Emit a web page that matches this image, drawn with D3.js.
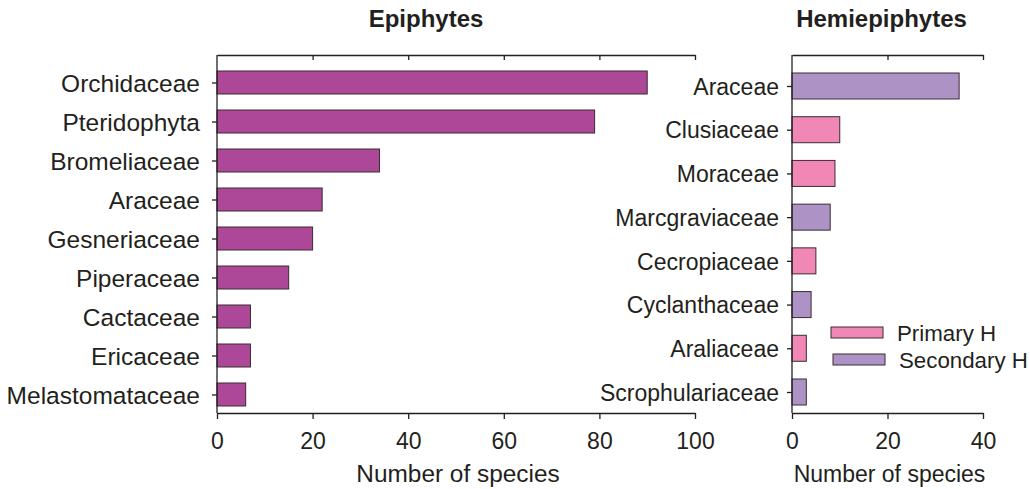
<!DOCTYPE html>
<html>
<head>
<meta charset="utf-8">
<script src="https://cdn.jsdelivr.net/npm/d3@7"></script>
<style>
  body { margin: 0; background: #fff; }
  text { font-family: "Liberation Sans", Arial, Helvetica, sans-serif; fill: #231f20; }
</style>
</head>
<body>
<svg id="chart" width="1030" height="489"></svg>
<script>
// epiphytes
const epi_families = ["Orchidaceae", "Pteridophyta", "Bromeliaceae", "Araceae", "Gesneriaceae",
    "Piperaceae", "Cactaceae", "Ericaceae", "Melastomataceae"]
const epi_species = [90, 79, 34, 22, 20, 15, 7, 7, 6]

// hemiepiphytes
const hemi_families = ["Araceae", "Clusiaceae", "Moraceae", "Marcgraviaceae", "Cecropiaceae",
    "Cyclanthaceae", "Araliaceae", "Scrophulariaceae"]
const hemi_species = [35, 10, 9, 8, 5, 4, 3, 3]
const hemi_type = ["Secondary H", "Primary H", "Primary H", "Secondary H", "Primary H",
    "Secondary H", "Primary H", "Secondary H"]

const epi_ticks = [0, 20, 40, 60, 80, 100]
const hemi_ticks = [0, 20, 40]
const legend_keys = ["Primary H", "Secondary H"]

const colors = {
    epi: "#ad4797",
    "Primary H": "#f187b4",
    "Secondary H": "#ad92c5",
    stroke: "#3b2c33",
    axis: "#231f20"
}

const svg = d3.select("#chart")
const top_y = 55, bottom_y = 413

function drawPanel(opt) {
    const x = d3.scaleLinear().domain(opt.domain).range(opt.xrange)
    const y = d3.scalePoint().domain(opt.cats).range(opt.yrange)
    const g = svg.append("g")

    // bars
    g.selectAll("rect.bar").data(opt.values).enter().append("rect")
        .attr("class", "bar")
        .attr("x", x(0))
        .attr("y", (d, i) => y(opt.cats[i]) - opt.bar_h / 2)
        .attr("width", d => x(d) - x(0))
        .attr("height", opt.bar_h)
        .attr("fill", (d, i) => opt.fill(i))
        .attr("stroke", colors.stroke).attr("stroke-width", 1)

    // bottom axis
    const bottom = g.append("g").attr("transform", `translate(0,${bottom_y})`)
        .call(d3.axisBottom(x).tickValues(opt.ticks).tickSize(6).tickPadding(14).tickSizeOuter(0))
    // top axis (inner ticks, no labels)
    const top = g.append("g").attr("transform", `translate(0,${top_y})`)
        .call(d3.axisTop(x).tickValues(opt.ticks.slice(1)).tickSize(-5).tickFormat("").tickSizeOuter(0))
    // left axis
    const left = g.append("g").attr("transform", `translate(${x(0)},0)`)
        .call(d3.axisLeft(y).tickSize(5).tickPadding(opt.label_pad).tickSizeOuter(0))
    left.select(".domain").attr("d", `M0,${top_y}V${bottom_y}`)

    ;[bottom, top, left].forEach(a => {
        a.selectAll("path, line").attr("stroke", colors.axis).attr("stroke-width", 1.3)
        a.selectAll("text").attr("fill", colors.axis).attr("font-family", null)
    })
    bottom.selectAll("text").style("font-size", "23px")
    left.selectAll("text").attr("dy", "0.36em").style("font-size", opt.label_size)

    // titles
    g.append("text").text(opt.title)
        .attr("x", (opt.xrange[0] + opt.xrange[1]) / 2 + opt.title_dx).attr("y", 27)
        .attr("text-anchor", "middle")
        .style("font-size", "24px").style("font-weight", "bold")
    g.append("text").text("Number of species")
        .attr("x", (opt.xrange[0] + opt.xrange[1]) / 2 + 2).attr("y", 482)
        .attr("text-anchor", "middle")
        .style("font-size", opt.xtitle_size)
    return { x, y }
}

drawPanel({
    cats: epi_families, values: epi_species, domain: [0, 100], ticks: epi_ticks,
    xrange: [217, 695], yrange: [82.5, 394.5], bar_h: 23,
    fill: () => colors.epi, label_pad: 12, label_size: "24.5px", title: "Epiphytes", title_dx: -30,
    xtitle_size: "24.4px"
})

drawPanel({
    cats: hemi_families, values: hemi_species, domain: [0, 40], ticks: hemi_ticks,
    xrange: [792, 983], yrange: [86, 392], bar_h: 26,
    fill: i => colors[hemi_type[i]], label_pad: 8, label_size: "23px", title: "Hemiepiphytes", title_dx: -6,
    xtitle_size: "23px"
})

// legend
const legend = svg.append("g").attr("transform", "translate(831,327)")
legend_keys.forEach((k, i) => {
    legend.append("rect")
        .attr("x", i * 2).attr("y", i * 27)
        .attr("width", 52).attr("height", 11)
        .attr("fill", colors[k]).attr("stroke", colors.stroke).attr("stroke-width", 1)
    legend.append("text").text(k)
        .attr("x", 66 + i * 2).attr("y", i * 27 + 5.5).attr("dy", "0.36em")
        .style("font-size", "22.3px")
})
</script>
</body>
</html>
